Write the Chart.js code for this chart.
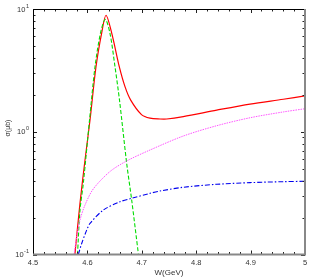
<!DOCTYPE html>
<html>
<head>
<meta charset="utf-8">
<script src="https://cdn.jsdelivr.net/npm/chart.js@4"></script>
<style>
  html, body { margin: 0; padding: 0; background: #fff; }
  #chart { display: block; }
</style>
</head>
<body>
<canvas id="chart" width="320" height="280"></canvas>
<script>
// values: W in GeV, sigma in microbarn
const redW = [4.577, 4.5864, 4.5956, 4.6048, 4.6158, 4.6262, 4.6342, 4.6447, 4.6586, 4.6691, 4.6796, 4.6994, 4.7151, 4.7335, 4.7458, 4.7763, 4.8377, 4.8989, 4.9601, 5.0];
const redV = [0.1, 0.263, 0.589, 1.246, 3.39, 6.37, 8.89, 6.37, 3.39, 2.33, 1.81, 1.38, 1.29, 1.27, 1.27, 1.33, 1.50, 1.68, 1.84, 1.96];

const greenW = [4.5818, 4.5864, 4.5925, 4.6039, 4.614, 4.6241, 4.6329, 4.6415, 4.6507, 4.659, 4.6722, 4.6814, 4.6936];
const greenV = [0.1, 0.23, 0.38, 1.246, 3.39, 6.37, 8.24, 6.34, 3.39, 1.81, 0.553, 0.278, 0.102];

const magentaW = [4.5754, 4.5803, 4.5864, 4.5956, 4.6108, 4.6415, 4.6722, 4.7151, 4.7763, 4.8377, 4.8989, 4.9601, 5.0];
const magentaV = [0.1, 0.139, 0.191, 0.253, 0.342, 0.474, 0.578, 0.71, 0.923, 1.12, 1.30, 1.45, 1.54];

const blueW = [4.5833, 4.5895, 4.5987, 4.6048, 4.6292, 4.6599, 4.6814, 4.7151, 4.7335, 4.7763, 4.8377, 4.8989, 4.9601, 5.0];
const blueV = [0.1, 0.123, 0.158, 0.179, 0.23, 0.269, 0.287, 0.315, 0.329, 0.353, 0.373, 0.385, 0.392, 0.395];

const xTicks = [4.5, 4.6, 4.7, 4.8, 4.9, 5];
const xTickLabels = ["4.5", "4.6", "4.7", "4.8", "4.9", "5"];
const yTicks = [0.1, 1, 10];
const yTickExp = ["-1", "0", "1"];

const toPoints = (ws, vs) => ws.map((w, i) => ({ x: w, y: vs[i] }));

const FONT = "'Liberation Sans', Arial, sans-serif";

const framePlugin = {
  id: "framePlugin",
  afterDraw(chart) {
    const { ctx, chartArea: a } = chart;
    const sx = chart.scales.x;
    const sy = chart.scales.y;
    ctx.save();

    // ticks, pointing inwards
    ctx.strokeStyle = "#222";
    ctx.lineWidth = 1;
    ctx.beginPath();
    for (let k = 0; k <= 25; k++) {
      const w = 4.5 + k * 0.02;
      const px = Math.round(sx.getPixelForValue(w)) + 0.5;
      const len = k % 5 === 0 ? 4 : 2.5;
      ctx.moveTo(px, a.bottom);
      ctx.lineTo(px, a.bottom - len);
      ctx.moveTo(px, a.top);
      ctx.lineTo(px, a.top + len);
    }
    for (let d = -1; d <= 1; d++) {
      for (let m = 1; m <= 9; m++) {
        const v = m * Math.pow(10, d);
        if (v > 10) break;
        const py = Math.round(sy.getPixelForValue(v)) + 0.5;
        const len = m === 1 ? 4 : 2.5;
        ctx.moveTo(a.left, py);
        ctx.lineTo(a.left + len, py);
        ctx.moveTo(a.right, py);
        ctx.lineTo(a.right - len, py);
      }
    }
    ctx.stroke();

    // frame: black left/top, grey bottom/right
    ctx.strokeStyle = "#000";
    ctx.lineWidth = 1;
    ctx.beginPath();
    ctx.moveTo(a.left + 0.5, a.bottom);
    ctx.lineTo(a.left + 0.5, a.top + 0.5);
    ctx.lineTo(a.right, a.top + 0.5);
    ctx.stroke();
    ctx.strokeStyle = "#888";
    ctx.lineWidth = 2;
    ctx.beginPath();
    ctx.moveTo(a.left, a.bottom);
    ctx.lineTo(a.right, a.bottom);
    ctx.lineTo(a.right, a.top);
    ctx.stroke();

    // tick labels
    ctx.fillStyle = "#333";
    ctx.font = "7.5px " + FONT;
    ctx.textAlign = "center";
    ctx.textBaseline = "top";
    xTicks.forEach((w, i) => {
      ctx.fillText(xTickLabels[i], sx.getPixelForValue(w), a.bottom + 5);
    });

    yTicks.forEach((v, i) => {
      const py = sy.getPixelForValue(v);
      ctx.font = "5.5px " + FONT;
      ctx.textAlign = "right";
      ctx.textBaseline = "middle";
      const ex = a.left - 4;
      ctx.fillText(yTickExp[i], ex, py - 3);
      const ew = ctx.measureText(yTickExp[i]).width;
      ctx.font = "7.5px " + FONT;
      ctx.fillText("10", ex - ew - 0.5, py + 0.5);
    });

    // axis titles
    ctx.font = "8px " + FONT;
    ctx.textAlign = "center";
    ctx.textBaseline = "middle";
    ctx.fillText("W(GeV)", (a.left + a.right) / 2, 273);

    ctx.translate(8, 128);
    ctx.rotate(-Math.PI / 2);
    ctx.font = "7px " + FONT;
    ctx.fillText("σ(μb)", 0, 0);

    ctx.restore();
  },
};

const ctx = document.getElementById("chart").getContext("2d");

new Chart(ctx, {
  type: "line",
  data: {
    datasets: [
      {
        data: toPoints(magentaW, magentaV),
        borderColor: "#ff55ff",
        borderWidth: 1,
        borderDash: [1.5, 1],
      },
      {
        data: toPoints(blueW, blueV),
        borderColor: "#0000ee",
        borderWidth: 1.1,
        borderDash: [5, 2, 1.5, 2],
      },
      {
        data: toPoints(greenW, greenV),
        borderColor: "#00dd00",
        borderWidth: 1.1,
        borderDash: [4, 2],
      },
      {
        data: toPoints(redW, redV),
        borderColor: "#ff0000",
        borderWidth: 1.2,
      },
    ],
  },
  options: {
    responsive: false,
    animation: false,
    devicePixelRatio: 1,
    events: [],
    elements: {
      point: { radius: 0 },
      line: { tension: 0.3, fill: false },
    },
    layout: {
      padding: { left: 33, right: 15, top: 9, bottom: 25.5 },
    },
    scales: {
      x: { type: "linear", min: 4.5, max: 5, display: false },
      y: { type: "logarithmic", min: 0.1, max: 10, display: false },
    },
    plugins: {
      legend: { display: false },
      tooltip: { enabled: false },
    },
  },
  plugins: [framePlugin],
});
</script>
</body>
</html>
